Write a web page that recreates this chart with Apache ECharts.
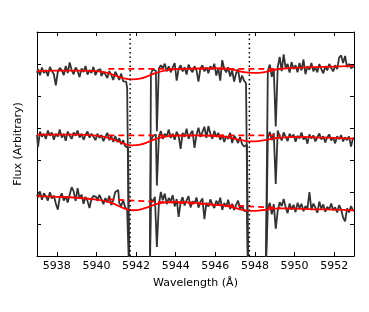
<!DOCTYPE html>
<html><head><meta charset="utf-8">
<script src="https://cdn.jsdelivr.net/npm/echarts@6/dist/echarts.min.js"></script>
<style>html,body{margin:0;padding:0;background:#fff}#c{width:369px;height:312px}</style>
</head><body><div id="c"></div>
<script>
const wavelengths = [
5937.0,5937.1,5937.2,5937.3,5937.4,5937.5,5937.6,5937.7,5937.8,5937.9,
5938.0,5938.1,5938.2,5938.3,5938.4,5938.5,5938.6,5938.7,5938.8,5938.9,
5939.0,5939.1,5939.2,5939.3,5939.4,5939.5,5939.6,5939.7,5939.8,5939.9,
5940.0,5940.1,5940.2,5940.3,5940.4,5940.5,5940.6,5940.7,5940.8,5940.9,
5941.0,5941.1,5941.2,5941.3,5941.4,5941.5,5941.6,5941.7,5941.8,5941.9,
5942.0,5942.1,5942.2,5942.3,5942.4,5942.5,5942.6,5942.7,5942.8,5942.9,
5943.0,5943.1,5943.2,5943.3,5943.4,5943.5,5943.6,5943.7,5943.8,5943.9,
5944.0,5944.1,5944.2,5944.3,5944.4,5944.5,5944.6,5944.7,5944.8,5944.9,
5945.0,5945.1,5945.2,5945.3,5945.4,5945.5,5945.6,5945.7,5945.8,5945.9,
5946.0,5946.1,5946.2,5946.3,5946.4,5946.5,5946.6,5946.7,5946.8,5946.9,
5947.0,5947.1,5947.2,5947.3,5947.4,5947.5,5947.6,5947.7,5947.8,5947.9,
5948.0,5948.1,5948.2,5948.3,5948.4,5948.5,5948.6,5948.7,5948.8,5948.9,
5949.0,5949.1,5949.2,5949.3,5949.4,5949.5,5949.6,5949.7,5949.8,5949.9,
5950.0,5950.1,5950.2,5950.3,5950.4,5950.5,5950.6,5950.7,5950.8,5950.9,
5951.0,5951.1,5951.2,5951.3,5951.4,5951.5,5951.6,5951.7,5951.8,5951.9,
5952.0,5952.1,5952.2,5952.3,5952.4,5952.5,5952.6,5952.7,5952.8,5952.9,
5953.0];

const fluxTop = [
5.73,5.84,5.65,5.89,5.72,5.81,5.62,5.91,5.78,5.68,
5.33,5.75,5.88,5.80,5.65,5.94,5.72,6.05,5.81,5.68,
5.89,5.78,5.59,5.86,5.75,5.94,5.67,5.81,5.72,5.91,
5.65,5.80,5.84,5.62,5.75,5.68,5.56,5.78,5.65,5.50,
5.76,5.64,5.50,5.70,5.46,5.45,5.25,-0.5,-0.5,-0.5,
-0.5,-0.5,-0.5,-0.5,-0.5,-0.5,-0.5,-0.5,5.70,5.84,
5.78,3.90,5.86,5.96,5.87,6.01,5.77,5.93,5.74,5.90,
6.03,5.48,5.85,5.96,5.77,5.90,5.67,5.98,5.83,5.74,
5.93,5.80,5.45,5.87,5.96,5.77,5.90,5.71,5.93,5.83,
6.01,5.64,5.87,5.48,6.12,5.85,5.74,5.90,5.61,5.80,
5.45,5.71,5.83,5.42,5.64,5.48,5.40,-0.5,-0.5,-0.5,
-0.5,-0.5,-0.5,-0.5,-0.5,-0.5,-0.5,5.78,5.98,5.60,
5.84,4.05,5.90,6.22,5.78,6.30,5.88,6.00,5.73,6.06,
5.84,5.96,5.74,6.03,5.80,6.14,5.68,5.93,5.82,6.03,
5.77,5.90,5.74,6.00,5.84,5.71,5.93,5.80,6.00,5.87,
5.77,5.96,5.84,6.20,6.27,6.03,6.25,5.90,6.00,5.87,
5.93];

const fluxMid = [
3.79,3.40,3.89,3.73,3.82,3.66,3.92,3.76,3.86,3.63,
3.82,3.73,3.95,3.70,3.82,3.60,3.89,3.76,3.66,3.86,
3.76,3.92,3.70,3.82,3.63,3.79,3.89,3.70,3.82,3.73,
3.62,3.82,3.69,3.78,3.59,3.72,3.85,3.62,3.75,3.56,
3.75,3.56,3.68,3.49,3.62,3.43,3.38,-0.5,-0.5,-0.5,
-0.5,-0.5,-0.5,-0.5,-0.5,-0.5,-0.5,-0.5,3.62,3.74,
3.80,2.20,3.70,3.91,3.66,3.82,3.75,3.95,3.69,3.82,
3.63,3.88,3.75,3.35,3.85,3.72,3.98,3.66,3.82,3.91,
3.38,3.79,4.01,3.72,3.88,4.04,3.69,4.06,3.82,3.66,
3.91,3.72,3.85,3.63,3.79,3.56,3.75,3.66,3.85,3.53,
3.76,3.66,3.53,3.72,3.50,3.42,3.48,-0.5,-0.5,-0.5,
-0.5,-0.5,-0.5,-0.5,-0.5,-0.5,-0.5,3.68,3.88,3.62,
3.84,2.25,3.92,3.74,3.61,3.86,3.72,3.59,3.82,3.70,
3.80,3.57,3.76,3.67,3.86,3.64,3.73,3.51,3.80,3.67,
3.77,3.58,3.71,3.83,3.64,3.74,3.55,3.71,3.80,3.61,
3.71,3.52,3.74,3.65,3.78,3.58,3.71,3.62,3.74,3.42,
3.68];

const fluxBot = [
1.92,1.83,2.02,1.76,1.96,1.86,1.73,1.99,1.80,1.89,
1.64,1.45,1.83,1.96,1.73,1.86,1.67,1.92,2.15,2.02,
1.72,2.12,1.79,1.92,1.63,1.85,1.72,1.50,1.79,1.88,
1.84,1.72,1.91,1.78,1.62,1.81,1.68,1.88,1.59,1.75,
2.00,2.06,1.66,1.56,1.74,1.52,1.45,-0.5,-0.5,-0.5,
-0.5,-0.5,-0.5,-0.5,-0.5,-0.5,-0.5,-0.5,1.78,1.70,
1.85,0.28,1.60,2.00,1.74,1.95,1.62,1.81,1.71,1.90,
1.55,1.78,1.22,1.68,1.84,1.58,1.74,1.87,1.52,1.71,
1.64,1.83,1.51,1.70,1.80,1.15,1.67,1.54,1.77,1.61,
1.50,1.73,1.60,1.82,1.44,1.66,1.54,1.76,1.47,1.63,
1.44,1.60,1.73,1.47,1.57,1.41,1.40,-0.5,-0.5,-0.5,
-0.5,-0.5,-0.5,-0.5,-0.5,-0.5,-0.5,1.50,1.66,1.30,
1.62,0.85,1.42,1.68,1.56,1.78,1.52,1.34,1.64,1.45,
1.60,1.37,1.66,1.50,1.63,1.40,1.56,1.47,2.00,1.44,
1.64,1.51,1.35,1.70,1.48,1.61,1.38,1.54,1.45,1.64,
1.43,1.52,1.36,1.59,1.46,1.20,1.08,1.49,1.36,1.56,
1.43];

const modelX = [5937,5938,5939,5940,5940.5,5941,5941.4,5941.8,5942.2,5942.6,5943,5943.5,5944,5945,5946,5946.5,5947,5947.4,5947.8,5948.2,5948.6,5949,5949.5,5950,5951,5952,5953];
const modelTop = [5.78,5.79,5.79,5.78,5.73,5.63,5.55,5.52,5.54,5.62,5.72,5.80,5.84,5.86,5.87,5.86,5.81,5.75,5.72,5.72,5.76,5.82,5.86,5.88,5.90,5.92,5.94];
const modelMid = [3.79,3.79,3.79,3.76,3.71,3.61,3.51,3.46,3.48,3.56,3.66,3.73,3.76,3.77,3.75,3.72,3.66,3.61,3.58,3.59,3.63,3.68,3.71,3.72,3.71,3.69,3.67];
const modelBot = [1.87,1.85,1.82,1.76,1.71,1.60,1.49,1.43,1.45,1.53,1.62,1.68,1.69,1.66,1.60,1.57,1.50,1.44,1.41,1.42,1.45,1.48,1.49,1.48,1.46,1.45,1.43];

const contX = [5940.6, 5949.3];
const contTop = [5.85, 5.85];
const contMid = [3.77, 3.77];
const contBot = [1.77, 1.50];

const markerLines = [5941.7, 5947.72];
const xTicks = [5938,5940,5942,5944,5946,5948,5950,5952];
const yTicks = [1,2,3,4,5,6];

const FONT = 'DejaVu Sans';
const pair = (xs, ys) => xs.map((x, i) => [x, ys[i]]);

const spec = (vals) => ({
  type: 'line', step: 'middle', showSymbol: false, symbol: 'none',
  data: pair(wavelengths, vals),
  lineStyle: { color: '#333333', width: 1.8 }, z: 2
});
const model = (vals) => ({
  type: 'line', smooth: 0.4, showSymbol: false, symbol: 'none',
  data: pair(modelX, vals),
  lineStyle: { color: '#ff0000', width: 1.8 }, z: 3
});
const cont = (vals) => ({
  type: 'line', showSymbol: false, symbol: 'none',
  data: pair(contX, vals),
  lineStyle: { color: '#ff0000', width: 1.8, type: [6, 4] }, z: 3
});
const marker = (x) => ({
  type: 'line', showSymbol: false, symbol: 'none',
  data: [[x, 0], [x, 7]],
  lineStyle: { color: '#000000', width: 1.5, type: [1.5, 3] }, z: 4
});

const axisLine = { show: true, onZero: false, lineStyle: { color: '#000', width: 1 } };
const chart = echarts.init(document.getElementById('c'), null, { renderer: 'canvas' });
chart.setOption({
  animation: false,
  backgroundColor: '#fff',
  grid: { left: 37, right: 15, top: 32, bottom: 56, containLabel: false },
  xAxis: [
    { type: 'value', min: 5937, max: 5953, position: 'bottom',
      axisLine, splitLine: { show: false },
      axisTick: { show: true, inside: true, length: 4, customValues: xTicks, lineStyle: { color: '#000' } },
      axisLabel: { show: true, customValues: xTicks, formatter: (v) => String(v), fontSize: 11, color: '#000', fontFamily: FONT, margin: 5 },
      name: 'Wavelength (Å)', nameLocation: 'middle', nameGap: 22,
      nameTextStyle: { fontSize: 11, color: '#000', fontFamily: FONT } },
    { type: 'value', min: 5937, max: 5953, position: 'top',
      axisLine, splitLine: { show: false },
      axisTick: { show: true, inside: true, length: 4, customValues: xTicks, lineStyle: { color: '#000' } },
      axisLabel: { show: false } }
  ],
  yAxis: [
    { type: 'value', min: 0, max: 7, position: 'left',
      axisLine, splitLine: { show: false },
      axisTick: { show: true, inside: true, length: 4, customValues: yTicks, lineStyle: { color: '#000' } },
      axisLabel: { show: false },
      name: 'Flux (Arbitrary)', nameLocation: 'middle', nameGap: 13,
      nameTextStyle: { fontSize: 11, color: '#000', fontFamily: FONT } },
    { type: 'value', min: 0, max: 7, position: 'right',
      axisLine, splitLine: { show: false },
      axisTick: { show: true, inside: true, length: 4, customValues: yTicks, lineStyle: { color: '#000' } },
      axisLabel: { show: false } }
  ],
  series: [
    spec(fluxTop), spec(fluxMid), spec(fluxBot),
    model(modelTop), model(modelMid), model(modelBot),
    cont(contTop), cont(contMid), cont(contBot),
    marker(markerLines[0]), marker(markerLines[1])
  ]
});
</script></body></html>
